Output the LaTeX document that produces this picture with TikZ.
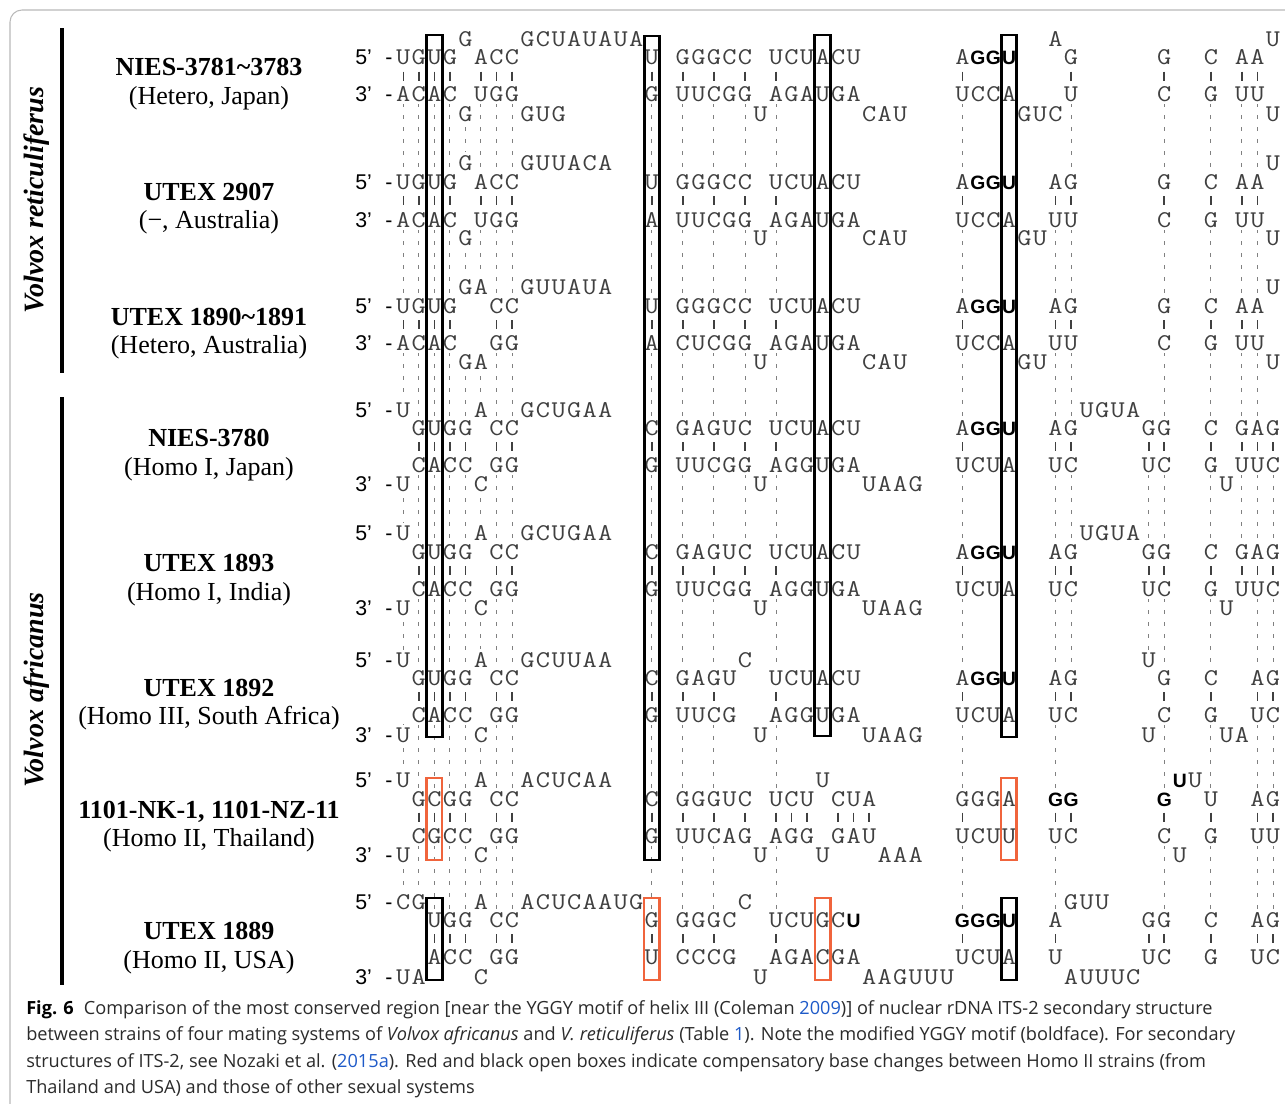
\documentclass[tikz,border=0pt]{standalone}
\usepackage{graphicx}
\usepackage{fontspec}
\setmainfont{Liberation Serif}
\newfontfamily\labfont{Liberation Sans}
\newfontfamily\capfont{Open Sans}
\definecolor{seq}{gray}{0.25}
\definecolor{dashc}{gray}{0.5}
\definecolor{orng}{RGB}{240,100,60}
\definecolor{lnk}{RGB}{30,90,200}
\definecolor{capc}{gray}{0.17}
\newcount\sqc
\def\sqs{1.15}
\newcommand\sq[4][]{\tikzset{sqcur/.style={#1}}\def\sqy{#3}\global\sqc=#2\relax\sqloop#4\relax}
\def\sqloop#1{\ifx\relax#1\else\sqput{#1}\expandafter\sqloop\fi}
\def\sqput#1{\node[nt,sqcur] at ({403.3+15.53*\the\sqc},{\sqy+7}) {\scalebox{\sqs}[1]{#1}};\global\advance\sqc by 1\relax}
\newcommand\bars[2]{\foreach \c in {#2}{\draw[pbar] ({403.3+15.53*\c},{#1-4.5}) -- ({403.3+15.53*\c},{#1+4.5});}}
\newcommand\gapd[3]{\foreach \c in {#3}{\draw[dsh] ({403.3+15.53*\c},#1) -- ({403.3+15.53*\c},#2);}}
\newcommand\cbox[4]{\draw[#1] ({403.3+15.53*#2-7.7},#3) rectangle ({403.3+15.53*#2+7.7},#4);}
\newcommand\fivep[1]{\node[lab,anchor=base west] at (355,{#1+7.5}) {5’}; \node[lab,anchor=base] at (389,{#1+7.5}) {-};}
\newcommand\threep[1]{\node[lab,anchor=base west] at (355,{#1+7.5}) {3’}; \node[lab,anchor=base] at (389,{#1+7.5}) {-};}
\begin{document}
\begin{tikzpicture}[x=0.75pt,y=-0.75pt,
  nt/.style={font=\ttfamily\fontsize{18pt}{19pt}\selectfont, text=seq, fill=white, inner xsep=0.3pt, inner ysep=2pt, anchor=base, execute at begin node={\def\sqs{1.15}}},
  bd/.style={font=\labfont\bfseries\fontsize{14.5pt}{16pt}\selectfont, text=black, execute at begin node={\def\sqs{1}}},
  pbar/.style={line width=1.2pt, seq},
  dsh/.style={dashc, line width=0.7pt, dash pattern=on 3pt off 6pt},
  bbox/.style={line width=2.2pt, black},
  obox/.style={line width=1.8pt, orng},
  lab/.style={font=\labfont\fontsize{16pt}{17pt}\selectfont, inner sep=0pt},
  sname/.style={font=\bfseries\fontsize{19.5pt}{20pt}\selectfont, anchor=base, inner sep=0pt},
  ssys/.style={font=\fontsize{19.5pt}{20pt}\selectfont, anchor=base, inner sep=0pt},
  species/.style={font=\bfseries\itshape\fontsize{21pt}{22pt}\selectfont, rotate=90, inner sep=0pt},
  captxt/.style={font=\capfont\fontsize{13.62pt}{15pt}\selectfont, text=capc, anchor=base west, inner sep=0pt}]
\useasboundingbox (0,0) rectangle (1285,1103);
\clip (0,0) rectangle (1285,1103);
\fill[white] (0,0) rectangle (1285,1103);
\draw[gray!55, line width=0.8pt, rounded corners=9pt] (10,10) rectangle (1320,1130);

% ---------- dashed alignment guides ----------
\gapd{103}{173}{0,...,7,16,18,...,22,24,...,29,36,...,39,43,49,52,54,55}
\gapd{229}{297}{0,...,7,16,18,...,22,24,...,29,36,...,39,42,43,49,52,54,55}
\gapd{352}{419}{0,...,7,16,18,...,22,24,...,29,36,...,39,42,43,49,52,54,55}
\gapd{474}{543}{0,...,7,16,18,...,22,24,...,29,36,...,39,42,43,48,49,52,54,55,56}
\gapd{598}{669}{0,...,7,16,18,...,21,24,...,29,36,...,39,42,43,48,49,52,55,56}
\gapd{724}{789}{0,...,7,16,18,...,21,24,...,29,36,...,39,42,49,52,55,56}
\gapd{845}{911}{0,...,7,16,18,...,21,24,...,29,36,...,39,42,49,52,55,56}

% ---------- Block 1 : NIES-3781~3783 ----------
\sq{4}{39}{G}\sq{8}{39}{GCUAUAUA}\sq{42}{39}{A}\sq{56}{39}{U}
\sq{0}{57}{UGUG}\sq{5}{57}{ACC}\sq{16}{57}{U}\sq{18}{57}{GGGCC}\sq{24}{57}{UCUACU}\sq{36}{57}{A}\sq[bd]{37}{57}{GGU}\sq{43}{57}{G}\sq{49}{57}{G}\sq{52}{57}{C}\sq{54}{57}{AA}
\bars{76}{0,...,3,5,6,7,16,18,...,22,24,...,29,36,...,39,43,49,52,54,55}
\sq{0}{94}{ACAC}\sq{5}{94}{UGG}\sq{16}{94}{G}\sq{18}{94}{UUCGG}\sq{24}{94}{AGAUGA}\sq{36}{94}{UCCA}\sq{43}{94}{U}\sq{49}{94}{C}\sq{52}{94}{G}\sq{54}{94}{UU}
\sq{4}{114}{G}\sq{8}{114}{GUG}\sq{23}{114}{U}\sq{30}{114}{CAU}\sq{40}{114}{GUC}\sq{56}{114}{U}
\fivep{57}\threep{94}

% ---------- Block 2 : UTEX 2907 ----------
\sq{4}{163}{G}\sq{8}{163}{GUUACA}\sq{56}{163}{U}
\sq{0}{182}{UGUG}\sq{5}{182}{ACC}\sq{16}{182}{U}\sq{18}{182}{GGGCC}\sq{24}{182}{UCUACU}\sq{36}{182}{A}\sq[bd]{37}{182}{GGU}\sq{42}{182}{AG}\sq{49}{182}{G}\sq{52}{182}{C}\sq{54}{182}{AA}
\bars{200.5}{0,...,3,5,6,7,16,18,...,22,24,...,29,36,...,39,42,43,49,52,54,55}
\sq{0}{220}{ACAC}\sq{5}{220}{UGG}\sq{16}{220}{A}\sq{18}{220}{UUCGG}\sq{24}{220}{AGAUGA}\sq{36}{220}{UCCA}\sq{42}{220}{UU}\sq{49}{220}{C}\sq{52}{220}{G}\sq{54}{220}{UU}
\sq{4}{238}{G}\sq{23}{238}{U}\sq{30}{238}{CAU}\sq{40}{238}{GU}\sq{56}{238}{U}
\fivep{182}\threep{220}

% ---------- Block 3 : UTEX 1890~1891 ----------
\sq{4}{287}{GA}\sq{8}{287}{GUUAUA}\sq{56}{287}{U}
\sq{0}{306}{UGUG}\sq{6}{306}{CC}\sq{16}{306}{U}\sq{18}{306}{GGGCC}\sq{24}{306}{UCUACU}\sq{36}{306}{A}\sq[bd]{37}{306}{GGU}\sq{42}{306}{AG}\sq{49}{306}{G}\sq{52}{306}{C}\sq{54}{306}{AA}
\bars{324.5}{0,...,3,6,7,16,18,...,22,24,...,29,36,...,39,42,43,49,52,54,55}
\sq{0}{343}{ACAC}\sq{6}{343}{GG}\sq{16}{343}{A}\sq{18}{343}{CUCGG}\sq{24}{343}{AGAUGA}\sq{36}{343}{UCCA}\sq{42}{343}{UU}\sq{49}{343}{C}\sq{52}{343}{G}\sq{54}{343}{UU}
\sq{4}{362}{GA}\sq{23}{362}{U}\sq{30}{362}{CAU}\sq{40}{362}{GU}\sq{56}{362}{U}
\fivep{306}\threep{343}

% ---------- Block 4 : NIES-3780 ----------
\sq{0}{410}{U}\sq{5}{410}{A}\sq{8}{410}{GCUGAA}\sq{44}{410}{UGUA}
\sq{1}{428}{GUGG}\sq{6}{428}{CC}\sq{16}{428}{C}\sq{18}{428}{GAGUC}\sq{24}{428}{UCUACU}\sq{36}{428}{A}\sq[bd]{37}{428}{GGU}\sq{42}{428}{AG}\sq{48}{428}{GG}\sq{52}{428}{C}\sq{54}{428}{GAG}
\bars{446.5}{1,...,4,6,7,16,18,...,22,24,...,29,36,...,39,42,43,48,49,52,54,55,56}
\sq{1}{465}{CACC}\sq{6}{465}{GG}\sq{16}{465}{G}\sq{18}{465}{UUCGG}\sq{24}{465}{AGGUGA}\sq{36}{465}{UCUA}\sq{42}{465}{UC}\sq{48}{465}{UC}\sq{52}{465}{G}\sq{54}{465}{UUC}
\sq{0}{484}{U}\sq{5}{484}{C}\sq{23}{484}{U}\sq{30}{484}{UAAG}\sq{53}{484}{U}
\fivep{410}\threep{484}

% ---------- Block 5 : UTEX 1893 ----------
\sq{0}{533}{U}\sq{5}{533}{A}\sq{8}{533}{GCUGAA}\sq{44}{533}{UGUA}
\sq{1}{552}{GUGG}\sq{6}{552}{CC}\sq{16}{552}{C}\sq{18}{552}{GAGUC}\sq{24}{552}{UCUACU}\sq{36}{552}{A}\sq[bd]{37}{552}{GGU}\sq{42}{552}{AG}\sq{48}{552}{GG}\sq{52}{552}{C}\sq{54}{552}{GAG}
\bars{570.5}{1,...,4,6,7,16,18,...,22,24,...,29,36,...,39,42,43,48,49,52,54,55,56}
\sq{1}{589}{CACC}\sq{6}{589}{GG}\sq{16}{589}{G}\sq{18}{589}{UUCGG}\sq{24}{589}{AGGUGA}\sq{36}{589}{UCUA}\sq{42}{589}{UC}\sq{48}{589}{UC}\sq{52}{589}{G}\sq{54}{589}{UUC}
\sq{0}{608}{U}\sq{5}{608}{C}\sq{23}{608}{U}\sq{30}{608}{UAAG}\sq{53}{608}{U}
\fivep{533}\threep{608}

% ---------- Block 6 : UTEX 1892 ----------
\sq{0}{660}{U}\sq{5}{660}{A}\sq{8}{660}{GCUUAA}\sq{22}{660}{C}\sq{48}{660}{U}
\sq{1}{678}{GUGG}\sq{6}{678}{CC}\sq{16}{678}{C}\sq{18}{678}{GAGU}\sq{24}{678}{UCUACU}\sq{36}{678}{A}\sq[bd]{37}{678}{GGU}\sq{42}{678}{AG}\sq{49}{678}{G}\sq{52}{678}{C}\sq{55}{678}{AG}
\bars{696.5}{1,...,4,6,7,16,18,...,21,24,...,29,36,...,39,42,43,49,52,55,56}
\sq{1}{715}{CACC}\sq{6}{715}{GG}\sq{16}{715}{G}\sq{18}{715}{UUCG}\sq{24}{715}{AGGUGA}\sq{36}{715}{UCUA}\sq{42}{715}{UC}\sq{49}{715}{C}\sq{52}{715}{G}\sq{55}{715}{UC}
\sq{0}{735}{U}\sq{5}{735}{C}\sq{23}{735}{U}\sq{30}{735}{UAAG}\sq{48}{735}{U}\sq{53}{735}{UA}
\fivep{660}\threep{735}

% ---------- Block 7 : 1101-NK-1, 1101-NZ-11 ----------
\sq{0}{780}{U}\sq{5}{780}{A}\sq{8}{780}{ACUCAA}\sq{27}{780}{U}\sq[bd]{50}{780}{U}\sq{51}{780}{U}
\sq{1}{799}{GCGG}\sq{6}{799}{CC}\sq{16}{799}{C}\sq{18}{799}{GGGUC}\sq{24}{799}{UCU}\sq{28}{799}{CUA}\sq{36}{799}{GGGA}\sq[bd]{42}{799}{GG}\sq[bd]{49}{799}{G}\sq{52}{799}{U}\sq{55}{799}{AG}
\bars{817}{1,...,4,6,7,16,18,...,22,24,25,26,28,29,30,36,...,39,42,43,49,52,55,56}
\sq{1}{836}{CGCC}\sq{6}{836}{GG}\sq{16}{836}{G}\sq{18}{836}{UUCAG}\sq{24}{836}{AGG}\sq{28}{836}{GAU}\sq{36}{836}{UCUU}\sq{42}{836}{UC}\sq{49}{836}{C}\sq{52}{836}{G}\sq{55}{836}{UU}
\sq{0}{855}{U}\sq{5}{855}{C}\sq{23}{855}{U}\sq{27}{855}{U}\sq{31}{855}{AAA}\sq{50}{855}{U}
\fivep{780}\threep{855}

% ---------- Block 8 : UTEX 1889 ----------
\sq{0}{902}{CG}\sq{5}{902}{A}\sq{8}{902}{ACUCAAUG}\sq{22}{902}{C}\sq{43}{902}{GUU}
\sq{2}{920}{UGG}\sq{6}{920}{CC}\sq{16}{920}{G}\sq{18}{920}{GGGC}\sq{24}{920}{UCUGC}\sq[bd]{29}{920}{U}\sq[bd]{36}{920}{GGGU}\sq{42}{920}{A}\sq{48}{920}{GG}\sq{52}{920}{C}\sq{55}{920}{AG}
\bars{938.5}{2,3,4,6,7,16,18,...,21,24,...,29,36,...,39,42,48,49,52,55,56}
\sq{2}{957}{ACC}\sq{6}{957}{GG}\sq{16}{957}{U}\sq{18}{957}{CCCG}\sq{24}{957}{AGACGA}\sq{36}{957}{UCUA}\sq{42}{957}{U}\sq{48}{957}{UC}\sq{52}{957}{G}\sq{55}{957}{UC}
\sq{0}{977}{UA}\sq{5}{977}{C}\sq{23}{977}{U}\sq{30}{977}{AAGUUU}\sq{43}{977}{AUUUC}
\fivep{902}\threep{977}

% ---------- boxes ----------
\cbox{bbox}{2}{35}{737}
\cbox{bbox}{16}{36}{860}
\cbox{bbox}{27}{35}{736}
\cbox{bbox}{39}{35}{737}
\cbox{obox}{2}{778}{860}
\cbox{obox}{39}{778}{860}
\cbox{bbox}{2}{898}{980}
\cbox{bbox}{39}{898}{980}
\cbox{obox}{16}{898}{980}
\cbox{obox}{27}{898}{980}

% ---------- strain labels ----------
\node[sname] (n1) at (209,75) {NIES-3781\textasciitilde 3783};
\node[ssys] (s1) at (209,104) {(Hetero, Japan)};
\node[sname] (n2) at (209,200) {UTEX 2907};
\node[ssys] (s2) at (209,228) {(−, Australia)};
\node[sname] (n3) at (209,325) {UTEX 1890\textasciitilde 1891};
\node[ssys] (s3) at (209,353) {(Hetero, Australia)};
\node[sname] (n4) at (209,446) {NIES-3780};
\node[ssys] (s4) at (209,475) {(Homo I, Japan)};
\node[sname] (n5) at (209,571) {UTEX 1893};
\node[ssys] (s5) at (209,600) {(Homo I, India)};
\node[sname] (n6) at (209,696) {UTEX 1892};
\node[ssys] (s6) at (209,724) {(Homo III, South Africa)};
\node[sname] (n7) at (209,818) {1101-NK-1, 1101-NZ-11};
\node[ssys] (s7) at (209,846) {(Homo II, Thailand)};
\node[sname] (n8) at (209,939) {UTEX 1889};
\node[ssys] (s8) at (209,968) {(Homo II, USA)};

% ---------- species bars ----------
\draw[line width=3.5pt] (62,28) -- (62,373);
\draw[line width=3.5pt] (62,397) -- (62,985);
\node[species] (sp1) at (37,200) {Volvox reticuliferus};
\node[species] (sp2) at (37,690) {Volvox africanus};

% ---------- caption ----------
\node[captxt] (c1) at (26,1014) {{\bfseries\color{black}Fig. 6}\hspace{0.55em}Comparison of the most conserved region [near the YGGY motif of helix III (Coleman \textcolor{lnk}{2009})] of nuclear rDNA ITS-2 secondary structure};
\node[captxt] (c2) at (26,1040.5) {between strains of four mating systems of \textit{Volvox africanus} and \textit{V. reticuliferus} (Table \textcolor{lnk}{1}). Note the modified YGGY motif (boldface). For secondary};
\node[captxt] (c3) at (26,1067) {structures of ITS-2, see Nozaki et al. (\textcolor{lnk}{2015a}). Red and black open boxes indicate compensatory base changes between Homo II strains (from};
\node[captxt] (c4) at (26,1093) {Thailand and USA) and those of other sexual systems};
\end{tikzpicture}
\end{document}
